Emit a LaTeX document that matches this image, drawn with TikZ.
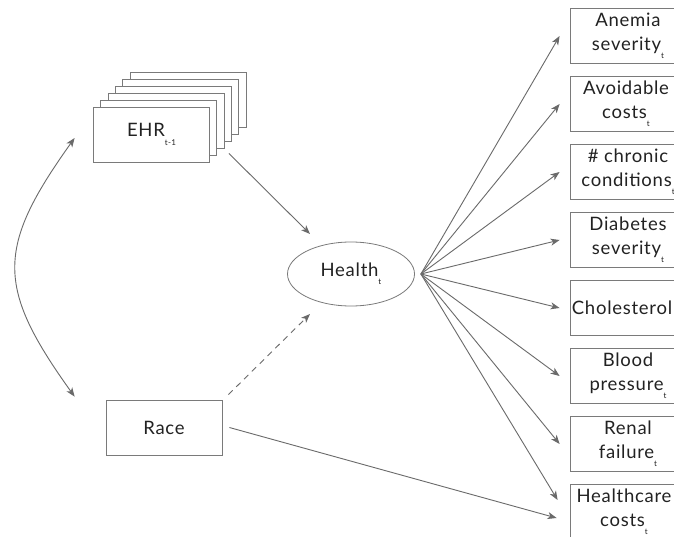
\documentclass[tikz,border=0pt]{standalone}
\usepackage{fontspec}
\setmainfont[LetterSpace=4]{Lato}
\usetikzlibrary{arrows.meta,shapes.geometric,calc}
\definecolor{ln}{HTML}{6A6A6A}
\definecolor{bx}{HTML}{7A7A7A}
\definecolor{tx}{HTML}{222222}
\newcommand\lowsub[1]{\raisebox{-0.45em}{\fontsize{8}{8}\selectfont #1}}
\begin{document}
\begin{tikzpicture}[x=1pt,y=-1pt,
  box/.style={draw=bx, line width=0.8pt, fill=white, minimum width=116pt, minimum height=55pt, inner sep=0pt, align=center, text=tx, font=\fontsize{18.5}{24}\selectfont},
  arr/.style={draw=ln, line width=0.9pt, -{Stealth[length=9pt,width=7pt,inset=2.5pt]}},
  dblarr/.style={draw=ln, line width=0.9pt, {Stealth[length=9pt,width=7pt,inset=2.5pt]}-{Stealth[length=9pt,width=7pt,inset=2.5pt]}},
]
\useasboundingbox (0,0) rectangle (674,537);
\clip (0,0) rectangle (674,537);
\fill[white] (0,0) rectangle (674,537);
% EHR stack
\foreach \k in {5,4,...,1} \node[box] (ehr\k) at (151.5+7.3*\k, 134.5-6.9*\k) {};
\node[box] (ehr) at (151.5,134.5) {EHR\lowsub{t-1}};
% Health
\node[ellipse, draw=bx, line width=0.8pt, minimum width=127pt, minimum height=64pt, inner sep=0pt, text=tx, font=\fontsize{18.5}{24}\selectfont] (health) at (351,274) {Health\lowsub{t}};
% Race
\node[box] (race) at (164,427.5) {Race};
% outcomes
\node[box] (o1) at (628,36) {Anemia\\severity\lowsub{t}};
\node[box] (o2) at (628,104) {Avoidable\kern4pt\\costs\lowsub{t}\kern4pt};
\node[box] (o3) at (628,172) {\# chronic\\conditions\lowsub{t}};
\node[box] (o4) at (628,240) {Diabetes\\severity\lowsub{t}};
\node[box] (o5) at (628,308) {Cholesterol\kern12pt};
\node[box] (o6) at (628,376) {Blood\\pressure\lowsub{t}};
\node[box] (o7) at (628,444) {Renal\\failure\lowsub{t}};
\node[box] (o8) at (628,512) {Healthcare\kern8pt\\costs\lowsub{t}\kern8pt};
% connectors
\coordinate (hs) at ($(health.east)+(6,0)$);
\foreach \i in {1,...,7} \draw[arr] (hs) -- ($(o\i.west)+(-10,0)$);
\draw[arr] (hs) -- ($(o8.west)+(-12,-12)$);
\draw[arr] ($(race.east)+(7,0)$) -- ($(o8.west)+(-13,6)$);
\draw[arr] ($(ehr.south east)+(19,-9)$) -- ($(health)+(-41,-40)$);
\draw[arr, dash pattern=on 6pt off 5pt] ($(race.north east)+(6,-5)$) -- ($(health)+(-41,40)$);
\coordinate (c1) at ($(ehr.west)+(-18.5,3.5)$);
\coordinate (c2) at ($(race.north west)+(-31,-3)$);
\draw[dblarr] (c1) .. controls (-4,248) and (-4,287) .. (c2);
\end{tikzpicture}
\end{document}
